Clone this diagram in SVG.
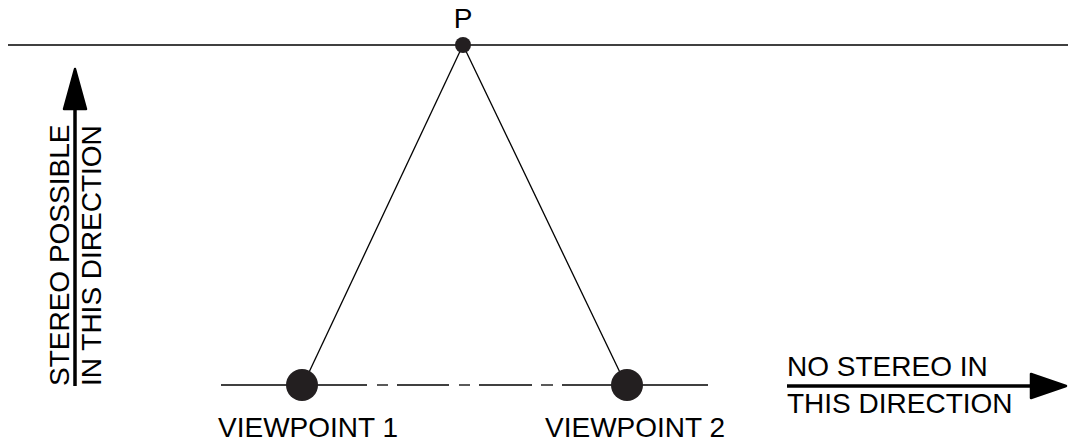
<svg xmlns="http://www.w3.org/2000/svg" width="1068" height="443" viewBox="0 0 1068 443">
<style>
.t{font-family:"Liberation Sans",Arial,sans-serif;font-size:28px;fill:#000}
.ln{stroke:#000;stroke-width:1.3;fill:none}
.ar{stroke:#000;stroke-width:3.5;fill:none}
.hd{fill:#000;stroke:#000;stroke-width:2.5;stroke-linejoin:round}
.dot{fill:#231f20}
</style>
<rect width="1068" height="443" fill="#fff"/>
<g id="connectors">
<line class="ln" x1="8" y1="45" x2="1068" y2="45"/>
<line class="ln" x1="463" y1="45" x2="303" y2="385"/>
<line class="ln" x1="463" y1="45" x2="626" y2="385"/>
<line class="ln" x1="221" y1="385" x2="367" y2="385"/>
<line class="ln" x1="377" y1="385" x2="388" y2="385"/>
<line class="ln" x1="397" y1="385" x2="449" y2="385"/>
<line class="ln" x1="459" y1="385" x2="470" y2="385"/>
<line class="ln" x1="479" y1="385" x2="532" y2="385"/>
<line class="ln" x1="541" y1="385" x2="553" y2="385"/>
<line class="ln" x1="562" y1="385" x2="708" y2="385"/>
</g>
<g id="P">
<circle class="dot" cx="463" cy="45" r="8"/>
<text class="t" x="463" y="28" text-anchor="middle">P</text>
</g>
<g id="viewpoint1">
<circle class="dot" cx="302" cy="385" r="16"/>
<text class="t" x="218" y="437">VIEWPOINT 1</text>
</g>
<g id="viewpoint2">
<circle class="dot" cx="627" cy="385" r="16"/>
<text class="t" x="545" y="437">VIEWPOINT 2</text>
</g>
<g id="stereo-arrow">
<line class="ar" x1="75" y1="386" x2="75" y2="105"/>
<polygon class="hd" points="75,69 86,109 64,109"/>
<text class="t" transform="translate(69,386) rotate(-90)">STEREO POSSIBLE</text>
<text class="t" transform="translate(101,386) rotate(-90)">IN THIS DIRECTION</text>
</g>
<g id="nostereo-arrow">
<line class="ar" x1="787" y1="386" x2="1032" y2="386"/>
<polygon class="hd" points="1066,386 1031,374 1031,398"/>
<text class="t" x="787" y="376">NO STEREO IN</text>
<text class="t" x="787" y="413">THIS DIRECTION</text>
</g>
</svg>
